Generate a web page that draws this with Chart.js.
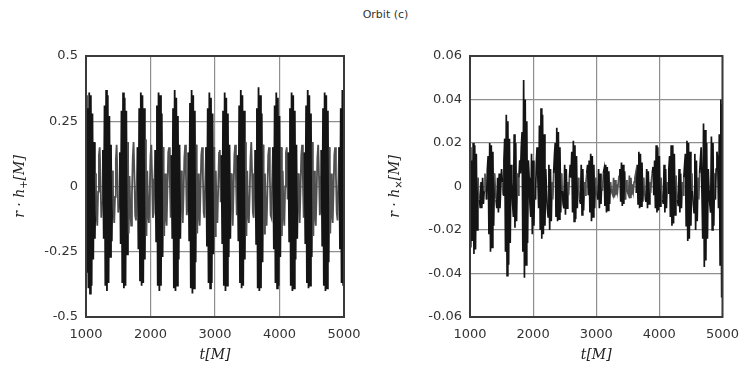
<!DOCTYPE html>
<html>
<head>
<meta charset="utf-8">
<script src="https://cdn.jsdelivr.net/npm/chart.js@4.4.1/dist/chart.umd.min.js"></script>
<style>
  html, body { margin: 0; padding: 0; background: #fff; }
  #wrap { position: relative; width: 749px; height: 382px; font-family: "DejaVu Sans", sans-serif; }
  #title { position: absolute; left: 0; width: 749px; top: 8px; text-align: center; font-size: 11px; color: #333; padding-left: 22px; box-sizing: border-box; }
  canvas { position: absolute; top: 0; }
</style>
</head>
<body>
<div id="wrap">
  <div id="title">Orbit (c)</div>
  <canvas id="plusChart" width="374" height="382" style="left:0"></canvas>
  <canvas id="crossChart" width="375" height="382" style="left:374px"></canvas>
</div>
<script>
// sampled waveform: t = tStart + i * tStep
const tStart = 1000;
const tStep = 12.5;

const tTicks = [1000, 2000, 3000, 4000, 5000];
const plusTicks = [-0.5, -0.25, 0, 0.25, 0.5];
const crossTicks = [-0.06, -0.04, -0.02, 0, 0.02, 0.04, 0.06];

// r*h_plus, one row per burst
const hPlus = [
  0.35, -0.33,
  0.30, -0.39, 0.36, -0.41, 0.35, -0.38, 0.28, -0.28, 0.17, -0.20, 0.05, -0.10, -0.15, -0.02, 0.12, 0.15, 0.03, -0.12, -0.06, 0.14, -0.20,
  0.31, -0.38, 0.37, -0.40, 0.35, -0.37, 0.27, -0.27, 0.16, -0.21, 0.06, -0.08, -0.14, -0.04, 0.10, 0.16, 0.04, -0.10, -0.08, 0.13, -0.22,
  0.29, -0.37, 0.36, -0.39, 0.34, -0.38, 0.29, -0.26, 0.17, -0.18, 0.04, -0.09, -0.15, -0.03, 0.11, 0.17, 0.05, -0.11, -0.13, 0.02, 0.15, -0.24,
  0.30, -0.36, 0.36, -0.38, 0.35, -0.37, 0.30, -0.28, 0.18, -0.19, 0.06, -0.10, -0.14, -0.02, 0.12, 0.16, 0.03, -0.12, -0.10, 0.04, 0.14, -0.21,
  0.31, -0.38, 0.36, -0.40, 0.35, -0.38, 0.28, -0.27, 0.15, -0.19, 0.05, -0.11, -0.15, -0.01, 0.13, 0.15, 0.02, -0.12, 0.12, -0.20,
  0.30, -0.39, 0.37, -0.40, 0.34, -0.38, 0.27, -0.28, 0.16, -0.20, 0.06, -0.09, -0.14, -0.03, 0.11, 0.16, 0.04, -0.11, -0.07, 0.13, -0.21,
  0.32, -0.39, 0.37, -0.41, 0.35, -0.39, 0.29, -0.29, 0.16, -0.18, 0.05, -0.10, -0.15, -0.02, 0.12, 0.15, 0.04, -0.10, -0.12, 0.03, 0.15, -0.23,
  0.30, -0.37, 0.36, -0.39, 0.34, -0.37, 0.28, -0.26, 0.15, -0.19, 0.06, -0.10, -0.14, 0.00, 0.13, 0.14, -0.06, 0.12, -0.22,
  0.29, -0.38, 0.36, -0.40, 0.34, -0.38, 0.28, -0.27, 0.16, -0.20, 0.05, -0.09, -0.15, -0.02, 0.12, 0.16, 0.03, -0.11, 0.12, -0.21,
  0.31, -0.37, 0.37, -0.39, 0.35, -0.38, 0.29, -0.28, 0.17, -0.19, 0.06, -0.10, -0.14, -0.03, 0.11, 0.17, 0.05, -0.10, -0.12, 0.02, 0.14, -0.22,
  0.30, -0.39, 0.38, -0.40, 0.35, -0.39, 0.28, -0.29, 0.16, -0.18, 0.05, -0.11, -0.15, -0.02, 0.12, 0.15, 0.04, -0.11, -0.12, 0.03, 0.15, -0.24,
  0.31, -0.37, 0.36, -0.39, 0.34, -0.38, 0.27, -0.27, 0.15, -0.19, 0.06, -0.10, -0.15, 0.00, 0.13, 0.15, -0.05, 0.13, -0.21,
  0.30, -0.38, 0.36, -0.40, 0.35, -0.39, 0.29, -0.28, 0.16, -0.20, 0.05, -0.09, -0.14, -0.02, 0.12, 0.16, 0.03, -0.12, 0.13, -0.22,
  0.31, -0.37, 0.37, -0.39, 0.35, -0.38, 0.28, -0.27, 0.17, -0.19, 0.06, -0.10, -0.15, -0.03, 0.11, 0.16, 0.04, -0.11, -0.08, 0.14, -0.23,
  0.30, -0.38, 0.36, -0.40, 0.35, -0.39, 0.29, -0.29, 0.15, -0.18, 0.05, -0.10, -0.14, -0.02, 0.12, 0.15, 0.04, -0.10, -0.13, 0.02, 0.15, -0.24,
  0.30, -0.37, 0.37, -0.38, 0.36
];

// r*h_cross, one row per burst (main spike, gap, secondary spike, tail)
const hCross = [
  0.018, -0.028,
  0.012, -0.025, 0.020, -0.031, 0.019, -0.029, 0.015, -0.020, 0.004, -0.002, -0.006, -0.010, 0.002, -0.010, 0.004, -0.008, -0.002, 0.006, 0.000, -0.006, 0.008,
  0.014, -0.022, 0.020, -0.030, 0.019, -0.028, 0.016, -0.018, 0.006, 0.000, -0.006, -0.010, 0.004, -0.012, 0.006, -0.010, 0.000, 0.008, 0.002, -0.004, 0.012,
  0.022, -0.030, 0.033, -0.041, 0.030, -0.036, 0.022, -0.026, 0.010, 0.002, -0.008, -0.014, 0.024, -0.019, 0.020, -0.016, 0.006, -0.004, 0.004, 0.012, 0.006, 0.018,
  0.025, -0.030, 0.049, -0.042, 0.040, -0.036, 0.030, -0.026, 0.012, 0.004, -0.008, -0.014, 0.015, -0.022, 0.012, -0.018, 0.004, -0.006, 0.010, 0.018, 0.004, -0.010,
  0.028, -0.020, 0.036, -0.024, 0.033, -0.022, 0.024, -0.018, 0.008, -0.002, -0.010, -0.014, 0.010, -0.020, 0.008, -0.016, 0.002, -0.006, 0.006, 0.014,
  0.020, -0.014, 0.027, -0.016, 0.025, -0.015, 0.018, -0.012, 0.006, -0.002, -0.008, -0.010, 0.010, -0.013, 0.008, -0.010, 0.002, -0.004, 0.004, 0.010, 0.004,
  0.016, -0.012, 0.021, -0.016, 0.019, -0.015, 0.014, -0.010, 0.004, -0.002, -0.006, -0.008, 0.010, -0.013, 0.008, -0.011, 0.002, -0.004, 0.002, 0.006, 0.010, -0.004,
  0.012, -0.012, 0.015, -0.016, 0.014, -0.014, 0.010, -0.010, 0.004, -0.002, -0.004, -0.006, 0.008, -0.010, 0.006, -0.008, 0.002, -0.002, 0.006,
  0.008, -0.009, 0.010, -0.012, 0.009, -0.011, 0.007, -0.008, 0.002, -0.001, -0.003, -0.004, 0.004, -0.005, 0.003, -0.004, 0.001, -0.002, 0.002, 0.005,
  0.008, -0.007, 0.011, -0.009, 0.010, -0.008, 0.007, -0.006, 0.003, -0.001, -0.003, -0.004, 0.005, -0.005, 0.004, -0.004, 0.001, -0.002, 0.002, 0.004, 0.006, -0.003,
  0.010, -0.008, 0.016, -0.010, 0.015, -0.009, 0.011, -0.007, 0.004, -0.002, -0.005, -0.007, 0.008, -0.010, 0.007, -0.008, 0.002, -0.003, 0.003, 0.006, 0.009, -0.004,
  0.012, -0.010, 0.019, -0.012, 0.018, -0.011, 0.014, -0.009, 0.004, -0.002, -0.006, -0.008, 0.010, -0.012, 0.008, -0.010, 0.002, -0.003, 0.008,
  0.014, -0.014, 0.019, -0.018, 0.019, -0.017, 0.015, -0.013, 0.005, -0.002, -0.006, -0.009, 0.008, -0.012, 0.006, -0.010, 0.002, -0.004, 0.004, 0.010,
  0.015, -0.018, 0.021, -0.025, 0.020, -0.024, 0.016, -0.018, 0.006, -0.002, -0.008, -0.012, 0.015, -0.020, 0.012, -0.016, 0.004, -0.006, 0.006, 0.012, 0.018,
  0.018, -0.024, 0.029, -0.037, 0.026, -0.034, 0.020, -0.024, 0.008, -0.002, -0.008, -0.012, 0.023, -0.020, 0.020, -0.018, 0.006, -0.006, 0.008, 0.016, 0.012, -0.010,
  0.024, -0.036, 0.040, -0.051, 0.038
];

// frame around the plot area
const framePlugin = {
  id: 'frame',
  afterDraw(chart) {
    const { ctx, chartArea: a } = chart;
    ctx.save();
    ctx.strokeStyle = '#3a3a3a';
    ctx.lineWidth = 2;
    ctx.strokeRect(a.left, a.top, a.right - a.left, a.bottom - a.top);
    ctx.restore();
  }
};

// rotated y title with a subscript
const yTitlePlugin = {
  id: 'yTitle',
  afterDraw(chart, args, opts) {
    const { ctx, chartArea: a } = chart;
    const parts = [
      ['r · h', 'italic 14px "DejaVu Serif"', 0],
      [opts.sub, '10px "DejaVu Sans"', 4],
      ['[M]', 'italic 14px "DejaVu Serif"', 0]
    ];
    ctx.save();
    ctx.translate(a.left - opts.offset, (a.top + a.bottom) / 2);
    ctx.rotate(-Math.PI / 2);
    ctx.fillStyle = '#222';
    ctx.textBaseline = 'middle';
    let w = 0;
    parts.forEach(p => { ctx.font = p[1]; w += ctx.measureText(p[0]).width; });
    let x = -w / 2;
    parts.forEach(p => {
      ctx.font = p[1];
      ctx.fillText(p[0], x, p[2]);
      x += ctx.measureText(p[0]).width;
    });
    ctx.restore();
  }
};

function makeChart(id, values, yTicks, yMin, yMax, sub, yWidth, pad, titleOffset, lw, quiet) {
  const points = values.map((v, i) => ({ x: tStart + i * tStep, y: v }));
  return new Chart(document.getElementById(id), {
    type: 'line',
    data: {
      datasets: [{
        data: points,
        borderColor: '#141414',
        borderWidth: lw,
        pointRadius: 0,
        tension: 0,
        fill: false,
        // low-amplitude stretches come out greyer in the original
        segment: {
          borderColor: c => (Math.abs(c.p0.parsed.y) < quiet && Math.abs(c.p1.parsed.y) < quiet) ? '#505050' : '#141414'
        }
      }]
    },
    options: {
      responsive: false,
      animation: false,
      events: [],
      layout: { padding: pad },
      plugins: {
        legend: { display: false },
        tooltip: { enabled: false },
        yTitle: { sub: sub, offset: titleOffset }
      },
      scales: {
        x: {
          type: 'linear',
          min: 1000,
          max: 5000,
          afterBuildTicks: s => { s.ticks = tTicks.map(v => ({ value: v })); },
          afterFit: s => { s.height = 51; },
          ticks: { callback: v => String(v), padding: 10, color: '#333', maxRotation: 0,
                   font: { family: 'DejaVu Sans', size: 13 } },
          grid: { color: '#8e8e8e', lineWidth: 1.2, drawTicks: false },
          border: { display: false },
          title: { display: true, text: 't[M]', color: '#222',
                   font: { family: 'DejaVu Serif', style: 'italic', size: 14 } }
        },
        y: {
          type: 'linear',
          min: yMin,
          max: yMax,
          afterBuildTicks: s => { s.ticks = yTicks.map(v => ({ value: v })); },
          afterFit: s => { s.width = yWidth; },
          ticks: { callback: v => String(v), padding: 8, color: '#333',
                   font: { family: 'DejaVu Sans', size: 13 } },
          grid: { color: '#8e8e8e', lineWidth: 1.2, drawTicks: false },
          border: { display: false }
        }
      }
    },
    plugins: [framePlugin, yTitlePlugin]
  });
}

makeChart('plusChart', hPlus, plusTicks, -0.5, 0.5, '+', 86,
  { top: 56, right: 30, bottom: 14, left: 0 }, 66, 1.8, 0.2);
makeChart('crossChart', hCross, crossTicks, -0.06, 0.06, '×', 96,
  { top: 56, right: 18, bottom: 14, left: 0 }, 75, 1.7, 0.007);
</script>
</body>
</html>
